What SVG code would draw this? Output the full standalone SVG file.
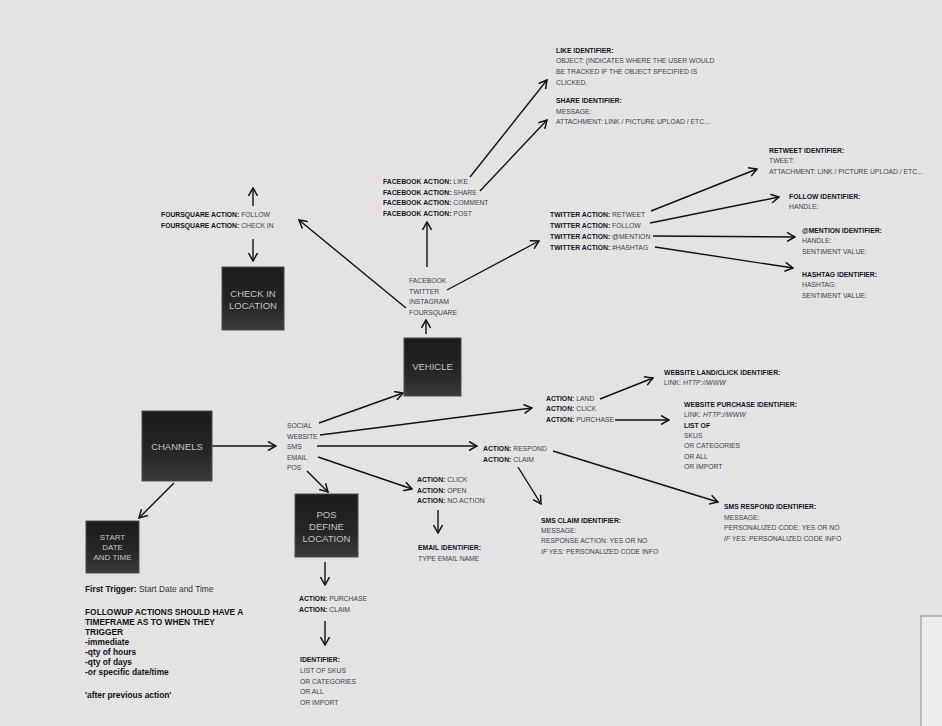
<svg xmlns="http://www.w3.org/2000/svg" width="942" height="726" viewBox="0 0 942 726">
<defs>
<linearGradient id="box" x1="0" y1="0" x2="0" y2="1">
<stop offset="0" stop-color="#1b1b1b"/>
<stop offset="0.6" stop-color="#262626"/>
<stop offset="1" stop-color="#3a3a3a"/>
</linearGradient>
<marker id="ah" viewBox="0 0 10 10" refX="9" refY="5" markerWidth="10" markerHeight="10" markerUnits="userSpaceOnUse" orient="auto">
<path d="M1,0.5 L9,5 L1,9.5" fill="none" stroke="#111" stroke-width="1.5"/>
</marker>
<style>
.t{font-family:"Liberation Sans",Arial,sans-serif;font-size:6.8px;fill:#3e4050}
.b{font-weight:bold;fill:#11141e}
.n{font-family:"Liberation Sans",Arial,sans-serif;font-size:9.5px;fill:#c4c4c4;text-anchor:middle}
.box{fill:url(#box);stroke:#4d4d4d;stroke-width:1}
.c line{stroke:#111;stroke-width:1.4;marker-end:url(#ah)}
.nt{font-family:"Liberation Sans",Arial,sans-serif;font-size:8.4px;font-weight:bold;fill:#111}
.nr{font-weight:normal;fill:#333}
</style>
</defs>
<rect width="942" height="726" fill="#e3e3e3"/>
<rect x="921" y="616" width="22" height="112" fill="#ececec" stroke="#8a8a8a" stroke-width="1"/>

<g id="connectors" class="c">
<line x1="212" y1="446" x2="276" y2="446"/>
<line x1="174" y1="483" x2="139" y2="518"/>
<line x1="319" y1="423" x2="403" y2="393"/>
<line x1="320" y1="435" x2="532" y2="408"/>
<line x1="317" y1="446" x2="477" y2="446"/>
<line x1="318" y1="457" x2="412" y2="489"/>
<line x1="307" y1="471" x2="328" y2="492"/>
<line x1="426" y1="334" x2="426" y2="320"/>
<line x1="427" y1="267" x2="427" y2="222"/>
<line x1="406" y1="308" x2="299" y2="220"/>
<line x1="447" y1="290" x2="539" y2="241"/>
<line x1="470" y1="177" x2="547" y2="80"/>
<line x1="480" y1="191" x2="547" y2="120"/>
<line x1="253" y1="206" x2="253" y2="188"/>
<line x1="253" y1="239" x2="253" y2="261"/>
<line x1="651" y1="211" x2="757" y2="169"/>
<line x1="650" y1="223" x2="779" y2="197"/>
<line x1="653" y1="236" x2="795" y2="237"/>
<line x1="655" y1="247" x2="793" y2="268"/>
<line x1="600" y1="399" x2="653" y2="378"/>
<line x1="615" y1="420" x2="669" y2="420"/>
<line x1="553" y1="451" x2="718" y2="502"/>
<line x1="518" y1="467" x2="541" y2="504"/>
<line x1="438" y1="510" x2="438" y2="533"/>
<line x1="325" y1="562" x2="325" y2="585"/>
<line x1="325" y1="621" x2="325" y2="645"/>
</g>

<g id="channels">
<rect class="box" x="142" y="411" width="70" height="70"/>
<text class="n" x="177" y="449.5">CHANNELS</text>
</g>
<g id="start-date">
<rect class="box" x="86" y="521" width="53" height="52"/>
<text class="n" style="font-size:8px" x="112.5" y="540">START</text>
<text class="n" style="font-size:8px" x="112.5" y="550">DATE</text>
<text class="n" style="font-size:8px" x="112.5" y="560">AND TIME</text>
</g>
<g id="vehicle">
<rect class="box" x="404" y="338" width="57" height="58"/>
<text class="n" x="432.5" y="369.5">VEHICLE</text>
</g>
<g id="check-in-location">
<rect class="box" x="222" y="267" width="62" height="63"/>
<text class="n" x="253" y="296.5">CHECK IN</text>
<text class="n" x="253" y="308.5">LOCATION</text>
</g>
<g id="pos-define-location">
<rect class="box" x="295" y="494" width="63" height="63"/>
<text class="n" x="326.5" y="517.5">POS</text>
<text class="n" x="326.5" y="529.5">DEFINE</text>
<text class="n" x="326.5" y="541.5">LOCATION</text>
</g>

<g id="channel-list" class="t">
<text x="287" y="428">SOCIAL</text>
<text x="287" y="438.5">WEBSITE</text>
<text x="287" y="449">SMS</text>
<text x="287" y="459.5">EMAIL</text>
<text x="287" y="470">POS</text>
</g>

<g id="vehicle-list" class="t">
<text x="409" y="283">FACEBOOK</text>
<text x="409" y="293.5">TWITTER</text>
<text x="409" y="304">INSTAGRAM</text>
<text x="409" y="314.5">FOURSQUARE</text>
</g>

<g id="facebook-actions" class="t">
<text x="383" y="184"><tspan class="b">FACEBOOK ACTION:</tspan> LIKE</text>
<text x="383" y="194.5"><tspan class="b">FACEBOOK ACTION:</tspan> SHARE</text>
<text x="383" y="205"><tspan class="b">FACEBOOK ACTION:</tspan> COMMENT</text>
<text x="383" y="215.5"><tspan class="b">FACEBOOK ACTION:</tspan> POST</text>
</g>

<g id="foursquare-actions" class="t">
<text x="161" y="217"><tspan class="b">FOURSQUARE ACTION:</tspan> FOLLOW</text>
<text x="161" y="228"><tspan class="b">FOURSQUARE ACTION:</tspan> CHECK IN</text>
</g>

<g id="like-share-identifiers" class="t">
<text x="556" y="52.5" class="b">LIKE IDENTIFIER:</text>
<text x="556" y="63">OBJECT: (INDICATES WHERE THE USER WOULD</text>
<text x="556" y="74">BE TRACKED IF THE OBJECT SPECIFIED IS</text>
<text x="556" y="84.5">CLICKED.</text>
<text x="556" y="103" class="b">SHARE IDENTIFIER:</text>
<text x="556" y="113.5">MESSAGE:</text>
<text x="556" y="124">ATTACHMENT: LINK / PICTURE UPLOAD / ETC...</text>
</g>

<g id="twitter-actions" class="t">
<text x="550" y="217"><tspan class="b">TWITTER ACTION:</tspan> RETWEET</text>
<text x="550" y="228"><tspan class="b">TWITTER ACTION:</tspan> FOLLOW</text>
<text x="550" y="239"><tspan class="b">TWITTER ACTION:</tspan> @MENTION</text>
<text x="550" y="250"><tspan class="b">TWITTER ACTION:</tspan> #HASHTAG</text>
</g>

<g id="twitter-identifiers" class="t">
<text x="769" y="152.5" class="b">RETWEET IDENTIFIER:</text>
<text x="769" y="163">TWEET:</text>
<text x="769" y="174">ATTACHMENT: LINK / PICTURE UPLOAD / ETC...</text>
<text x="789" y="198.5" class="b">FOLLOW IDENTIFIER:</text>
<text x="789" y="209">HANDLE:</text>
<text x="802" y="232.5" class="b">@MENTION IDENTIFIER:</text>
<text x="802" y="243">HANDLE:</text>
<text x="802" y="253.5">SENTIMENT VALUE:</text>
<text x="802" y="276.5" class="b">HASHTAG IDENTIFIER:</text>
<text x="802" y="287">HASHTAG:</text>
<text x="802" y="297.5">SENTIMENT VALUE:</text>
</g>

<g id="website-actions" class="t">
<text x="546" y="400.5"><tspan class="b">ACTION:</tspan> LAND</text>
<text x="546" y="411"><tspan class="b">ACTION:</tspan> CLICK</text>
<text x="546" y="421.5"><tspan class="b">ACTION:</tspan> PURCHASE</text>
</g>

<g id="website-identifiers" class="t">
<text x="664" y="374.5" class="b">WEBSITE LAND/CLICK IDENTIFIER:</text>
<text x="664" y="385">LINK: <tspan font-style="italic">HTTP://WWW</tspan></text>
<text x="684" y="406.5" class="b">WEBSITE PURCHASE IDENTIFIER:</text>
<text x="684" y="417">LINK: <tspan font-style="italic">HTTP://WWW</tspan></text>
<text x="684" y="427.5" class="b">LIST OF</text>
<text x="684" y="438">SKUS</text>
<text x="684" y="448">OR CATEGORIES</text>
<text x="684" y="458.5">OR ALL</text>
<text x="684" y="469">OR IMPORT</text>
</g>

<g id="sms-actions" class="t">
<text x="483" y="451"><tspan class="b">ACTION:</tspan> RESPOND</text>
<text x="483" y="461.5"><tspan class="b">ACTION:</tspan> CLAIM</text>
</g>

<g id="sms-identifiers" class="t">
<text x="541" y="522.5" class="b">SMS CLAIM IDENTIFIER:</text>
<text x="541" y="532.5">MESSAGE:</text>
<text x="541" y="543">RESPONSE ACTION: YES OR NO</text>
<text x="541" y="553.5"><tspan font-style="italic">IF YES:</tspan> PERSONALIZED CODE INFO</text>
<text x="724" y="509" class="b">SMS RESPOND IDENTIFIER:</text>
<text x="724" y="519.5">MESSAGE:</text>
<text x="724" y="530">PERSONALIZED CODE: YES OR NO</text>
<text x="724" y="540.5"><tspan font-style="italic">IF YES:</tspan> PERSONALIZED CODE INFO</text>
</g>

<g id="email-actions" class="t">
<text x="417" y="482"><tspan class="b">ACTION:</tspan> CLICK</text>
<text x="417" y="492.5"><tspan class="b">ACTION:</tspan> OPEN</text>
<text x="417" y="503"><tspan class="b">ACTION:</tspan> NO ACTION</text>
<text x="418" y="550" class="b">EMAIL IDENTIFIER:</text>
<text x="418" y="560.5">TYPE EMAIL NAME</text>
</g>

<g id="pos-actions" class="t">
<text x="299" y="601"><tspan class="b">ACTION:</tspan> PURCHASE</text>
<text x="299" y="611.5"><tspan class="b">ACTION:</tspan> CLAIM</text>
<text x="300" y="662" class="b">IDENTIFIER:</text>
<text x="300" y="673">LIST OF SKUS</text>
<text x="300" y="683.5">OR CATEGORIES</text>
<text x="300" y="694">OR ALL</text>
<text x="300" y="704.5">OR IMPORT</text>
</g>

<g id="notes" class="nt">
<text x="85" y="592">First Trigger: <tspan class="nr">Start Date and Time</tspan></text>
<text x="85" y="615">FOLLOWUP ACTIONS SHOULD HAVE A</text>
<text x="85" y="625">TIMEFRAME AS TO WHEN THEY</text>
<text x="85" y="635">TRIGGER</text>
<text x="85" y="644.5">-immediate</text>
<text x="85" y="654.5">-qty of hours</text>
<text x="85" y="664.5">-qty of days</text>
<text x="85" y="674.5">-or specific date/time</text>
<text x="85" y="698">'after previous action'</text>
</g>
</svg>
